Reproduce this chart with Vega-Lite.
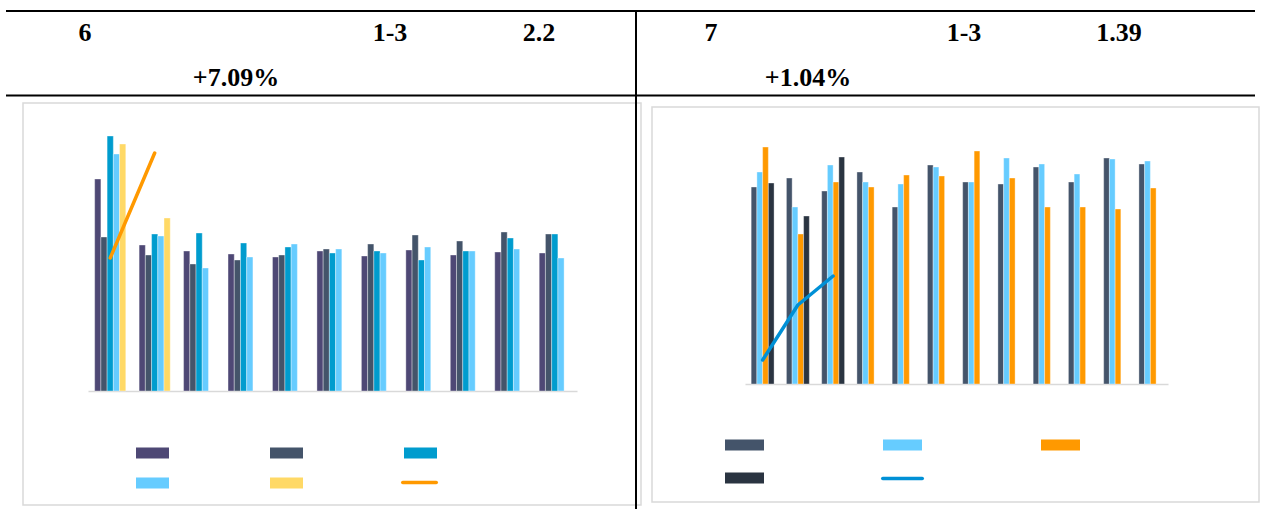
{
  "$schema": "https://vega.github.io/schema/vega-lite/v6.json",
  "width": 1261,
  "height": 509,
  "padding": 0,
  "autosize": {"type": "none"},
  "background": "#ffffff",
  "config": {"view": {"stroke": null}},
  "datasets": {
    "frame": [
      {"x0": 6, "x1": 1255, "y0": 11, "y1": 11},
      {"x0": 6, "x1": 1255, "y0": 95.5, "y1": 95.5},
      {"x0": 636, "x1": 636, "y0": 11, "y1": 509}
    ],
    "boxes": [
      {"x0": 23, "x1": 641, "y0": 103, "y1": 505},
      {"x0": 652, "x1": 1259, "y0": 107, "y1": 502}
    ],
    "heads": [
      {"label": "6", "x0": 85, "y0": 41},
      {"label": "1-3", "x0": 390, "y0": 41},
      {"label": "2.2", "x0": 539, "y0": 41},
      {"label": "+7.09%", "x0": 236, "y0": 86},
      {"label": "7", "x0": 711, "y0": 41},
      {"label": "1-3", "x0": 964, "y0": 41},
      {"label": "1.39", "x0": 1119, "y0": 41},
      {"label": "+1.04%", "x0": 808, "y0": 86}
    ],
    "left": [
      {"group": "1", "series": "A", "value": 21.2}, {"group": "1", "series": "B", "value": 15.4}, {"group": "1", "series": "C", "value": 25.5}, {"group": "1", "series": "D", "value": 23.7}, {"group": "1", "series": "E", "value": 24.7},
      {"group": "2", "series": "A", "value": 14.6}, {"group": "2", "series": "B", "value": 13.6}, {"group": "2", "series": "C", "value": 15.7}, {"group": "2", "series": "D", "value": 15.5}, {"group": "2", "series": "E", "value": 17.3},
      {"group": "3", "series": "A", "value": 14.0}, {"group": "3", "series": "B", "value": 12.7}, {"group": "3", "series": "C", "value": 15.8}, {"group": "3", "series": "D", "value": 12.3},
      {"group": "4", "series": "A", "value": 13.7}, {"group": "4", "series": "B", "value": 13.1}, {"group": "4", "series": "C", "value": 14.8}, {"group": "4", "series": "D", "value": 13.4},
      {"group": "5", "series": "A", "value": 13.4}, {"group": "5", "series": "B", "value": 13.6}, {"group": "5", "series": "C", "value": 14.4}, {"group": "5", "series": "D", "value": 14.7},
      {"group": "6", "series": "A", "value": 14.0}, {"group": "6", "series": "B", "value": 14.2}, {"group": "6", "series": "C", "value": 13.8}, {"group": "6", "series": "D", "value": 14.2},
      {"group": "7", "series": "A", "value": 13.5}, {"group": "7", "series": "B", "value": 14.7}, {"group": "7", "series": "C", "value": 14.0}, {"group": "7", "series": "D", "value": 13.8},
      {"group": "8", "series": "A", "value": 14.1}, {"group": "8", "series": "B", "value": 15.6}, {"group": "8", "series": "C", "value": 13.1}, {"group": "8", "series": "D", "value": 14.4},
      {"group": "9", "series": "A", "value": 13.6}, {"group": "9", "series": "B", "value": 15.0}, {"group": "9", "series": "C", "value": 14.0}, {"group": "9", "series": "D", "value": 14.0},
      {"group": "10", "series": "A", "value": 13.9}, {"group": "10", "series": "B", "value": 15.9}, {"group": "10", "series": "C", "value": 15.3}, {"group": "10", "series": "D", "value": 14.2},
      {"group": "11", "series": "A", "value": 13.8}, {"group": "11", "series": "B", "value": 15.7}, {"group": "11", "series": "C", "value": 15.7}, {"group": "11", "series": "D", "value": 13.3}
    ],
    "leftLine": [
      {"group": "1", "series": "F", "value": 13.3},
      {"group": "2", "series": "F", "value": 23.8}
    ],
    "right": [
      {"group": "1", "series": "P", "value": 19.7}, {"group": "1", "series": "Q", "value": 21.2}, {"group": "1", "series": "R", "value": 23.7}, {"group": "1", "series": "S", "value": 20.1},
      {"group": "2", "series": "P", "value": 20.6}, {"group": "2", "series": "Q", "value": 17.7}, {"group": "2", "series": "R", "value": 15.0}, {"group": "2", "series": "S", "value": 16.8},
      {"group": "3", "series": "P", "value": 19.3}, {"group": "3", "series": "Q", "value": 21.9}, {"group": "3", "series": "R", "value": 20.2}, {"group": "3", "series": "S", "value": 22.7},
      {"group": "4", "series": "P", "value": 21.2}, {"group": "4", "series": "Q", "value": 20.2}, {"group": "4", "series": "R", "value": 19.7},
      {"group": "5", "series": "P", "value": 17.7}, {"group": "5", "series": "Q", "value": 20.0}, {"group": "5", "series": "R", "value": 20.9},
      {"group": "6", "series": "P", "value": 21.9}, {"group": "6", "series": "Q", "value": 21.7}, {"group": "6", "series": "R", "value": 20.8},
      {"group": "7", "series": "P", "value": 20.2}, {"group": "7", "series": "Q", "value": 20.2}, {"group": "7", "series": "R", "value": 23.3},
      {"group": "8", "series": "P", "value": 20.0}, {"group": "8", "series": "Q", "value": 22.6}, {"group": "8", "series": "R", "value": 20.6},
      {"group": "9", "series": "P", "value": 21.7}, {"group": "9", "series": "Q", "value": 22.0}, {"group": "9", "series": "R", "value": 17.7},
      {"group": "10", "series": "P", "value": 20.2}, {"group": "10", "series": "Q", "value": 21.0}, {"group": "10", "series": "R", "value": 17.7},
      {"group": "11", "series": "P", "value": 22.6}, {"group": "11", "series": "Q", "value": 22.5}, {"group": "11", "series": "R", "value": 17.5},
      {"group": "12", "series": "P", "value": 22.0}, {"group": "12", "series": "Q", "value": 22.3}, {"group": "12", "series": "R", "value": 19.6}
    ],
    "rightLine": [
      {"group": "1", "series": "T", "value": 2.4},
      {"group": "2", "series": "T", "value": 7.9},
      {"group": "3", "series": "T", "value": 10.8}
    ]
  },
  "layer": [
    {
      "layer": [
        {
          "data": {"name": "boxes"},
          "mark": {"type": "rect", "fill": "transparent", "stroke": "#D9D9D9", "strokeWidth": 1.5},
          "encoding": {
            "x": {"field": "x0", "type": "quantitative", "scale": {"domain": [0, 1261], "range": [0, 1261], "nice": false, "zero": false}, "axis": null},
            "x2": {"field": "x1"},
            "y": {"field": "y0", "type": "quantitative", "scale": {"domain": [0, 509], "range": [0, 509], "nice": false, "zero": false}, "axis": null},
            "y2": {"field": "y1"}
          }
        },
        {
          "data": {"name": "frame"},
          "mark": {"type": "rule", "color": "#000000", "strokeWidth": 2},
          "encoding": {
            "x": {"field": "x0", "type": "quantitative"},
            "x2": {"field": "x1"},
            "y": {"field": "y0", "type": "quantitative"},
            "y2": {"field": "y1"}
          }
        },
        {
          "data": {"name": "heads"},
          "mark": {"type": "text", "font": "Liberation Serif", "fontWeight": "bold", "fontSize": 26, "align": "center", "baseline": "alphabetic", "color": "#000000"},
          "encoding": {
            "x": {"field": "x0", "type": "quantitative"},
            "y": {"field": "y0", "type": "quantitative"},
            "text": {"field": "label"}
          }
        }
      ]
    },
    {
      "layer": [
        {
          "data": {"name": "left"},
          "mark": {"type": "bar", "stroke": "#ffffff", "strokeWidth": 0.6, "strokeOpacity": 0.6},
          "encoding": {
            "x": {"field": "group", "type": "nominal", "scale": {"domain": ["1","2","3","4","5","6","7","8","9","10","11"], "range": [88, 577], "paddingInner": 0.3, "paddingOuter": 0.15},
                  "axis": {"orient": "bottom", "labels": false, "ticks": false, "title": null, "grid": false, "domainColor": "#D9D9D9", "domainWidth": 1.5, "offset": -118}},
            "xOffset": {"field": "series", "type": "nominal", "scale": {"domain": ["A","B","C","D","E"], "paddingInner": 0, "paddingOuter": 0}},
            "y": {"field": "value", "type": "quantitative", "scale": {"domain": [0, 30], "range": [391, 91], "nice": false}, "axis": null},
            "fill": {"field": "series", "type": "nominal",
                     "scale": {"domain": ["A","B","C","D","E"], "range": ["#4E4875","#44546A","#009CCE","#66CCFF","#FFD966"]},
                     "legend": {"orient": "none", "legendX": 136, "legendY": 436.5, "direction": "horizontal", "columns": 3, "columnPadding": 101, "rowPadding": 8, "padding": 0, "title": null,
                                "labelExpr": "''", "labelOffset": 0, "labelFontSize": 1, "symbolSize": 1089, "symbolType": "M-1,-0.333H1V0.333H-1Z", "symbolOpacity": 1, "symbolStrokeWidth": 0}}
          }
        },
        {
          "data": {"name": "leftLine"},
          "mark": {"type": "line", "strokeWidth": 3.5, "strokeCap": "round"},
          "encoding": {
            "x": {"field": "group", "type": "nominal"},
            "y": {"field": "value", "type": "quantitative"},
            "stroke": {"field": "series", "type": "nominal",
                       "scale": {"domain": ["F"], "range": ["#FF9900"]},
                       "legend": {"orient": "none", "legendX": 401, "legendY": 464, "padding": 0, "title": null,
                                  "labelExpr": "''", "labelOffset": 0, "labelFontSize": 1, "symbolSize": 1122, "symbolType": "stroke", "symbolStrokeWidth": 3.5, "symbolOpacity": 1,
                                  "encode": {"symbols": {"update": {"strokeCap": {"value": "round"}}}}}}
          }
        }
      ]
    },
    {
      "layer": [
        {
          "data": {"name": "right"},
          "mark": {"type": "bar", "stroke": "#ffffff", "strokeWidth": 0.6, "strokeOpacity": 0.6},
          "encoding": {
            "x": {"field": "group", "type": "nominal", "scale": {"domain": ["1","2","3","4","5","6","7","8","9","10","11","12"], "range": [745, 1168], "paddingInner": 0.35, "paddingOuter": 0.175},
                  "axis": {"orient": "bottom", "labels": false, "ticks": false, "title": null, "grid": false, "domainColor": "#D9D9D9", "domainWidth": 1.5, "offset": -125}},
            "xOffset": {"field": "series", "type": "nominal", "scale": {"domain": ["P","Q","R","S"], "paddingInner": 0, "paddingOuter": 0}},
            "y": {"field": "value", "type": "quantitative", "scale": {"domain": [0, 30], "range": [384, 84], "nice": false}, "axis": null},
            "fill": {"field": "series", "type": "nominal",
                     "scale": {"domain": ["P","Q","R","S"], "range": ["#44546A","#66CCFF","#FF9900","#2A3441"]},
                     "legend": {"orient": "none", "legendX": 725, "legendY": 425.5, "direction": "horizontal", "columns": 3, "columnPadding": 119, "rowPadding": 8, "padding": 0, "title": null,
                                "labelExpr": "''", "labelOffset": 0, "labelFontSize": 1, "symbolSize": 1521, "symbolType": "M-1,-0.282H1V0.282H-1Z", "symbolOpacity": 1, "symbolStrokeWidth": 0}}
          }
        },
        {
          "data": {"name": "rightLine"},
          "mark": {"type": "line", "strokeWidth": 3.5, "strokeCap": "round", "strokeJoin": "round", "interpolate": "linear"},
          "encoding": {
            "x": {"field": "group", "type": "nominal"},
            "y": {"field": "value", "type": "quantitative"},
            "stroke": {"field": "series", "type": "nominal",
                       "scale": {"domain": ["T"], "range": ["#0090D6"]},
                       "legend": {"orient": "none", "legendX": 881, "legendY": 457, "padding": 0, "title": null,
                                  "labelExpr": "''", "labelOffset": 0, "labelFontSize": 1, "symbolSize": 1560, "symbolType": "stroke", "symbolStrokeWidth": 3.5, "symbolOpacity": 1,
                                  "encode": {"symbols": {"update": {"strokeCap": {"value": "round"}}}}}}
          }
        }
      ]
    }
  ],
  "resolve": {
    "scale": {"x": "independent", "y": "independent", "fill": "independent", "stroke": "independent", "xOffset": "independent"},
    "axis": {"x": "independent", "y": "independent"},
    "legend": {"fill": "independent", "stroke": "independent"}
  }
}
